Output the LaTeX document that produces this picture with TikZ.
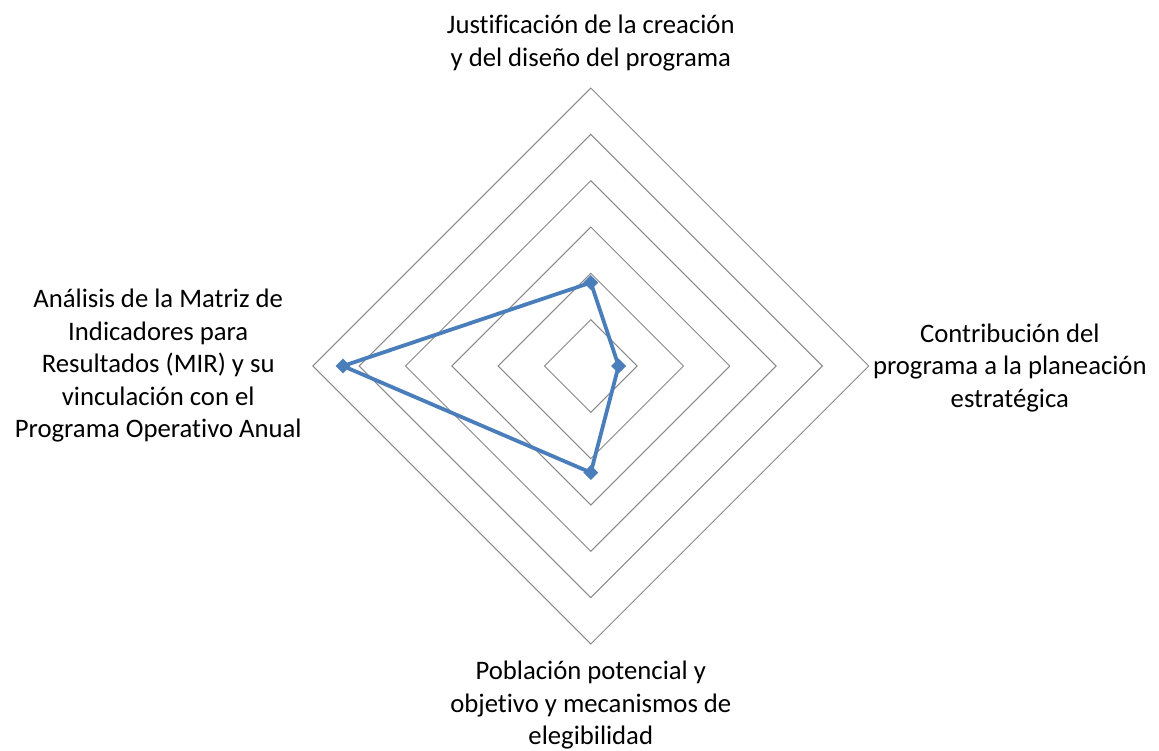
\documentclass[tikz,border=0pt]{standalone}
\usepackage{fontspec}
\setmainfont{Carlito}[Ligatures=NoCommon]
\usetikzlibrary{positioning,shapes.geometric}
\definecolor{seriesblue}{HTML}{4A7EBB}
\definecolor{gridgray}{HTML}{898989}

\begin{document}
\begin{tikzpicture}[x=1pt,y=1pt,
   ring/.style={draw=gridgray,line width=1pt},
   series/.style={draw=seriesblue,line width=3.8pt,line join=round},
   datapt/.style={diamond,fill=seriesblue,inner sep=0pt,minimum size=15pt},
   axislabel/.style={align=center,inner sep=0pt,font=\fontsize{26.7}{32.5}\selectfont}]
   \useasboundingbox (-590.8,-384) rectangle (568.2,366);
   \foreach \k in {1,...,6}
     \draw[ring] (0,\k*46.33) -- (\k*46.33,0) -- (0,-\k*46.33) -- (-\k*46.33,0) -- cycle;
   \coordinate (v_top) at (0,278);
   \coordinate (v_right) at (278,0);
   \coordinate (v_bottom) at (0,-278);
   \coordinate (v_left) at (-278,0);
   \node[axislabel] (l_top) [above=17pt of v_top] {Justificación de la creación\\y del diseño del programa};
   \node[axislabel] (l_right) [right=4pt of v_right,yshift=-2pt] {Contribución del\\programa a la planeación\\estratégica};
   \node[axislabel] (l_bottom) [below=17pt of v_bottom] {Población potencial y\\objetivo y mecanismos de\\elegibilidad};
   \node[axislabel] (l_left) [left=11pt of v_left] {Análisis de la Matriz de\\Indicadores para\\Resultados (MIR) y su\\vinculación con el\\Programa Operativo Anual};
   \coordinate (d_top) at (0,1.8*46.33);
   \coordinate (d_right) at (0.6*46.33,0);
   \coordinate (d_bottom) at (0,-2.3*46.33);
   \coordinate (d_left) at (-5.35*46.33,0);
   \draw[series] (d_top) -- (d_right) -- (d_bottom) -- (d_left) -- cycle;
   \foreach \p in {d_top,d_right,d_bottom,d_left}
     \node[datapt] (m\p) at (\p) {};
\end{tikzpicture}
\end{document}
